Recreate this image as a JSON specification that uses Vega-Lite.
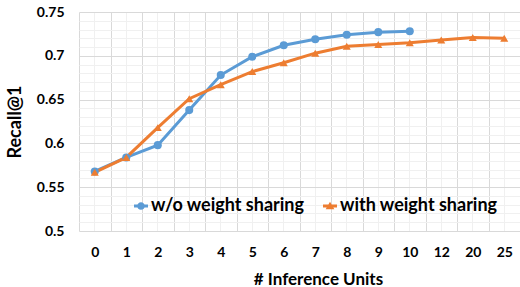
{
  "$schema": "https://vega.github.io/schema/vega-lite/v6.json",
  "width": 441,
  "height": 219,
  "autosize": {"type": "none"},
  "padding": {"left": 79, "top": 12, "right": 0, "bottom": 56},
  "background": "white",
  "config": {
    "view": {"stroke": null},
    "font": "Lato",
    "axis": {"labelFont": "Lato", "titleFont": "Lato", "labelFontWeight": "bold", "titleFontWeight": "bold", "labelColor": "#000", "titleColor": "#000"},
    "legend": {"labelFont": "Lato", "labelFontWeight": "bold", "labelColor": "#000"}
  },
  "data": {
    "values": [
      {"units": "0", "series": "w/o weight sharing", "recall": 0.568},
      {"units": "1", "series": "w/o weight sharing", "recall": 0.584},
      {"units": "2", "series": "w/o weight sharing", "recall": 0.598},
      {"units": "3", "series": "w/o weight sharing", "recall": 0.638},
      {"units": "4", "series": "w/o weight sharing", "recall": 0.678},
      {"units": "5", "series": "w/o weight sharing", "recall": 0.699},
      {"units": "6", "series": "w/o weight sharing", "recall": 0.712},
      {"units": "7", "series": "w/o weight sharing", "recall": 0.719},
      {"units": "8", "series": "w/o weight sharing", "recall": 0.724},
      {"units": "9", "series": "w/o weight sharing", "recall": 0.727},
      {"units": "10", "series": "w/o weight sharing", "recall": 0.728},
      {"units": "0", "series": "with weight sharing", "recall": 0.567},
      {"units": "1", "series": "with weight sharing", "recall": 0.584},
      {"units": "2", "series": "with weight sharing", "recall": 0.618},
      {"units": "3", "series": "with weight sharing", "recall": 0.651},
      {"units": "4", "series": "with weight sharing", "recall": 0.667},
      {"units": "5", "series": "with weight sharing", "recall": 0.682},
      {"units": "6", "series": "with weight sharing", "recall": 0.692},
      {"units": "7", "series": "with weight sharing", "recall": 0.703},
      {"units": "8", "series": "with weight sharing", "recall": 0.711},
      {"units": "9", "series": "with weight sharing", "recall": 0.713},
      {"units": "10", "series": "with weight sharing", "recall": 0.715},
      {"units": "12", "series": "with weight sharing", "recall": 0.718},
      {"units": "20", "series": "with weight sharing", "recall": 0.721},
      {"units": "25", "series": "with weight sharing", "recall": 0.72}
    ]
  },
  "encoding": {
    "x": {
      "field": "units", "type": "ordinal",
      "sort": ["0","1","2","3","4","5","6","7","8","9","10","12","20","25"],
      "scale": {"type": "band", "paddingInner": 0, "paddingOuter": 0}
    },
    "y": {
      "field": "recall", "type": "quantitative",
      "scale": {"domain": [0.5, 0.75], "zero": false, "nice": false},
      "axis": {
        "values": [0.5,0.51,0.52,0.53,0.54,0.55,0.56,0.57,0.58,0.59,0.6,0.61,0.62,0.63,0.64,0.65,0.66,0.67,0.68,0.69,0.7,0.71,0.72,0.73,0.74,0.75],
        "labelExpr": "round(datum.value*100) % 5 == 0 ? format(datum.value, '~g') : ''",
        "gridColor": {"condition": {"test": "round(datum.value*100) % 5 == 0", "value": "#d9d9d9"}, "value": "#f0f0f0"},
        "gridWidth": 1,
        "ticks": false, "domain": false,
        "labelFontSize": 14, "labelPadding": 15,
        "title": "Recall@1", "titleFontSize": 18, "titlePadding": 12
      }
    },
    "color": {
      "field": "series", "type": "nominal",
      "scale": {"domain": ["w/o weight sharing", "with weight sharing"], "range": ["#5b9bd5", "#ed7d31"]},
      "legend": {
        "orient": "none", "legendX": 53, "legendY": 185, "direction": "horizontal",
        "title": null, "labelFontSize": 18, "symbolSize": 196, "columnPadding": 16,
        "symbolStrokeWidth": 0, "labelOffset": 1,
        "symbolType": "M-1,-0.2H1V0.2H-1Z M0.55,0A0.55,0.55,0,1,1,-0.55,0A0.55,0.55,0,1,1,0.55,0Z",
        "encode": {
          "symbols": {
            "update": {
              "shape": {"signal": "datum.value === 'with weight sharing' ? 'M-1,-0.2H1V0.2H-1Z M0,-0.6L0.62,0.45L-0.62,0.45Z' : 'M-1,-0.2H1V0.2H-1Z M0.55,0A0.55,0.55,0,1,1,-0.55,0A0.55,0.55,0,1,1,0.55,0Z'"},
              "strokeWidth": {"value": 0},
              "opacity": {"value": 1}
            }
          }
        }
      }
    }
  },
  "layer": [
    {
      "mark": {"type": "line", "strokeWidth": 3},
      "encoding": {
        "x": {
          "field": "units", "type": "ordinal",
          "sort": ["0","1","2","3","4","5","6","7","8","9","10","12","20","25"],
          "axis": {
            "orient": "bottom", "grid": true, "tickBand": "extent", "gridColor": "#d9d9d9",
            "ticks": false, "domain": false, "labelAngle": 0,
            "labelFontSize": 14, "labelPadding": 14,
            "title": "# Inference Units", "titleFontSize": 17, "titlePadding": 12,
            "titleX": 239, "titleAnchor": null
          }
        }
      }
    },
    {
      "transform": [{"filter": "datum.series === 'w/o weight sharing'"}],
      "mark": {"type": "point", "filled": true, "opacity": 1, "size": 65, "shape": "circle"},
      "encoding": {
        "x": {
          "field": "units", "type": "ordinal",
          "sort": ["0","1","2","3","4","5","6","7","8","9","10","12","20","25"],
          "axis": {
            "orient": "bottom", "grid": true, "gridColor": "#f0f0f0",
            "ticks": false, "domain": false, "labels": false, "title": null
          }
        }
      }
    },
    {
      "transform": [{"filter": "datum.series === 'with weight sharing'"}],
      "mark": {"type": "point", "filled": true, "opacity": 1, "size": 65, "shape": "triangle-up"},
      "encoding": {
        "x": {
          "field": "units", "type": "ordinal",
          "sort": ["0","1","2","3","4","5","6","7","8","9","10","12","20","25"],
          "axis": null
        }
      }
    }
  ],
  "resolve": {"axis": {"x": "independent"}}
}
